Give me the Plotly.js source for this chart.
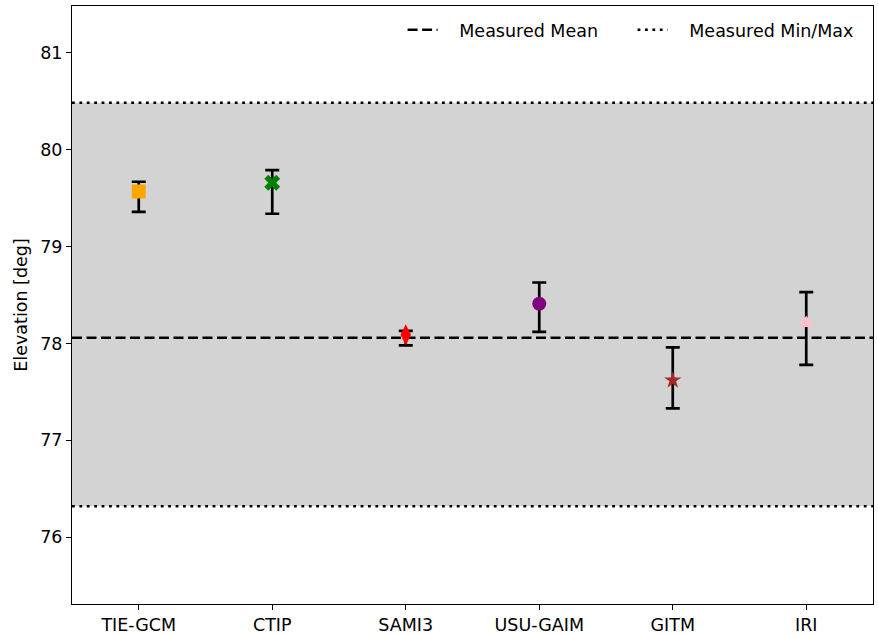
<!DOCTYPE html>
<html><head><meta charset="utf-8">
<script src="https://cdn.plot.ly/plotly-3.0.1.min.js"></script>
<style>html,body{margin:0;padding:0;background:#fff}#chart{width:878px;height:636px}</style>
</head><body><div id="chart"></div>
<script>
const models = ["TIE-GCM","CTIP","SAMI3","USU-GAIM","GITM","IRI"];
const values = [79.57, 79.66, 78.09, 78.41, 77.62, 78.21];
const errUpper = [79.67, 79.79, 78.13, 78.63, 77.96, 78.53];
const errLower = [79.36, 79.34, 77.98, 78.12, 77.33, 77.78];
const colors = ["orange","green","red","purple","brown","pink"];
const symbols = ["square","x","diamond-tall","circle","star","triangle-up"];
const sizes = [14, 14, 15, 14, 13, 15];
const measuredMean = 78.06;
const measuredMin = 76.32;
const measuredMax = 80.485;
const yTicks = [76,77,78,79,80,81];
const legendNames = ["Measured Mean", "Measured Min/Max"];

const pad = "\u00A0\u00A0\u00A0";
const xr = [-0.5, 5.5];
const traces = [];
models.forEach((m,i)=>{
  traces.push({
    x:[i], y:[values[i]], type:'scatter', mode:'markers',
    marker:{size:0.1, color:'rgba(0,0,0,0)'},
    error_y:{type:'data', symmetric:false, array:[errUpper[i]-values[i]], arrayminus:[values[i]-errLower[i]], color:'black', thickness:2.7, width:7},
    showlegend:false, hoverinfo:'skip'
  });
});
traces.push({x:xr, y:[measuredMean, measuredMean], type:'scatter', mode:'lines', name:pad+legendNames[0],
  line:{color:'black', width:2.5, dash:'10px,4.5px'}, hoverinfo:'skip'});
traces.push({x:[xr[0],xr[1],null,xr[0],xr[1]], y:[measuredMin,measuredMin,null,measuredMax,measuredMax], type:'scatter', mode:'lines', name:pad+legendNames[1],
  line:{color:'black', width:2.5, dash:'2.8px,4.6px'}, hoverinfo:'skip'});
models.forEach((m,i)=>{
  traces.push({
    x:[i], y:[values[i]], type:'scatter', mode:'markers',
    marker:{size:sizes[i], color:colors[i], symbol:symbols[i], line:{width:0}},
    showlegend:false, hoverinfo:'skip'
  });
});

const layout = {
  width:878, height:636,
  margin:{l:72, r:5, t:6, b:32},
  paper_bgcolor:'white', plot_bgcolor:'white',
  font:{family:'DejaVu Sans', size:17.5, color:'black'},
  showlegend:true,
  legend:{orientation:'h', x:0.987, xanchor:'right', y:0.99, yanchor:'top', bgcolor:'rgba(0,0,0,0)', font:{size:17.5},
    entrywidth:185, entrywidthmode:'pixels'},
  xaxis:{range:xr, tickmode:'array', tickvals:models.map((_,i)=>i), ticktext:models,
    showgrid:false, zeroline:false, showline:true, mirror:true, linecolor:'black', linewidth:1,
    ticks:'outside', ticklen:5, tickwidth:1, tickcolor:'black', fixedrange:true},
  yaxis:{range:[75.31, 81.485], tickmode:'array', tickvals:yTicks,
    showgrid:false, zeroline:false, showline:true, mirror:true, linecolor:'black', linewidth:1,
    ticks:'outside', ticklen:5, tickwidth:1, tickcolor:'black',
    title:{text:'Elevation [deg]', font:{size:17.5}, standoff:8}},
  shapes:[{type:'rect', xref:'paper', yref:'y', x0:0, x1:1, y0:measuredMin, y1:measuredMax,
    fillcolor:'lightgray', line:{width:0}, layer:'below'}]
};
Plotly.newPlot('chart', traces, layout, {staticPlot:true});
</script></body></html>
